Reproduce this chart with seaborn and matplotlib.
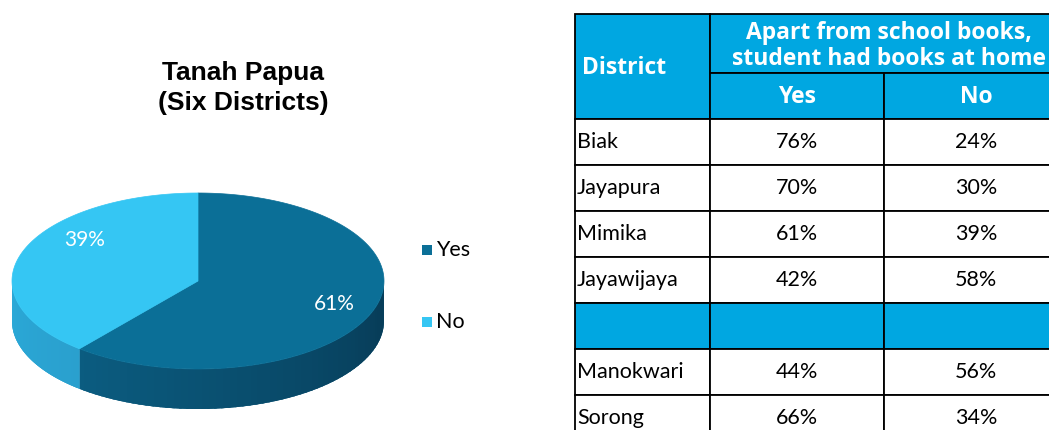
import numpy as np
import matplotlib
matplotlib.use("Agg")
import matplotlib.pyplot as plt
from matplotlib.patches import Polygon, Rectangle
import seaborn as sns

# =========================================================
# DATA
# =========================================================

pie_labels = ["Yes", "No"]
pie_values = [61, 39]

districts = ["Biak", "Jayapura", "Mimika", "Jayawijaya", "", "Manokwari", "Sorong"]
yes_pct = [76, 70, 61, 42, None, 44, 66]
no_pct = [24, 30, 39, 58, None, 56, 34]

# =========================================================
# STYLE
# =========================================================

sns.set_theme(style="white")
plt.rcParams["font.family"] = ["Lato", "DejaVu Sans"]

top_colors = ["#0B6F97", "#35C6F3"]
side_colors = [("#0B5C80", "#073A55"), ("#2AA9D8", "#2AA0CE")]
header_blue = "#00A7E1"
head_font = ["Open Sans", "DejaVu Sans"]

fig = plt.figure(figsize=(10.49, 4.30), dpi=100)
ax = fig.add_axes([0, 0, 1, 1])
ax.set_xlim(0, 1049)
ax.set_ylim(430, 0)
ax.axis("off")

# =========================================================
# 3D PIE (drawn as a tilted ellipse with a side wall)
# =========================================================

cx, cy, a, b, depth = 198, 281, 186, 88, 40

fracs = np.array(pie_values) / np.sum(pie_values)
edges = 90 - 360 * np.concatenate([[0], np.cumsum(fracs)])


def ell(t):
    r = np.radians(t)
    return cx + a * np.cos(r), cy - b * np.sin(r)


def band(t_hi, t_lo):
    seg = np.linspace(t_hi, t_lo, max(4, int(abs(t_hi - t_lo))))
    x, y = ell(seg)
    return np.column_stack([np.r_[x, x[::-1]], np.r_[y, y[::-1] + depth]])


# side walls (only the front half is visible)
for i in range(len(pie_values)):
    t0, t1 = edges[i], edges[i + 1]
    for k in (-1, 0, 1):
        lo = max(t1, -180 + 360 * k)
        hi = min(t0, 360 * k)
        if hi <= lo:
            continue
        # solid base, then a soft gradient on top of it
        ax.add_patch(Polygon(band(hi, lo), closed=True,
                             facecolor=side_colors[i][0], edgecolor="none"))
        n = 60
        ts = np.linspace(hi, lo, n + 1)
        shades = sns.blend_palette(list(side_colors[i])[::-1], n)
        for j in range(n):
            end = max(ts[j + 1] - 0.8, lo)
            ax.add_patch(Polygon(band(ts[j], end), closed=True,
                                 facecolor=shades[j], edgecolor="none"))

# top surfaces
for i in range(len(pie_values)):
    ts = np.linspace(edges[i], edges[i + 1], 200)
    x, y = ell(ts)
    pts = np.column_stack([np.r_[cx, x], np.r_[cy, y]])
    ax.add_patch(Polygon(pts, closed=True, facecolor=top_colors[i],
                         edgecolor=top_colors[i], lw=0.5))

# percentage labels
label_r = [0.78, 0.65]
label_lift = [0, 22]
for i, v in enumerate(pie_values):
    mid = (edges[i] + edges[i + 1]) / 2
    r = np.radians(mid)
    lx = cx + a * label_r[i] * np.cos(r)
    ly = cy - b * label_r[i] * np.sin(r) - label_lift[i]
    ax.text(lx, ly, f"{v}%", color="white", fontsize=15,
            ha="center", va="center")

# title
ax.text(243, 88, "Tanah Papua\n(Six Districts)", fontsize=19,
        fontweight="bold", family="Liberation Sans", ha="center",
        va="center", linespacing=1.3, color="black")

# legend
for i, lab in enumerate(pie_labels):
    ly = 250 + 72 * i
    ax.add_patch(Rectangle((422, ly - 5), 10, 10, facecolor=top_colors[i],
                           edgecolor="none"))
    ax.text(436, ly, lab, fontsize=15.5, ha="left", va="center", color="black")

# =========================================================
# TABLE
# =========================================================

col_edges = [575, 710, 884, 1068]
head_top, head_mid, body_top, row_h = 14, 73, 119, 46
lw = 1.3

def cell(x0, x1, y0, y1, fill):
    ax.add_patch(Rectangle((x0, y0), x1 - x0, y1 - y0, facecolor=fill,
                           edgecolor="black", lw=lw, clip_on=False))

cell(col_edges[0], col_edges[1], head_top, body_top, header_blue)
cell(col_edges[1], col_edges[3], head_top, head_mid, header_blue)
cell(col_edges[1], col_edges[2], head_mid, body_top, header_blue)
cell(col_edges[2], col_edges[3], head_mid, body_top, header_blue)

ax.text(582, 68, "District", color="white", fontsize=16.5, fontweight="bold",
        family=head_font, ha="left", va="center")
ax.text((col_edges[1] + col_edges[3]) / 2, 46,
        "Apart from school books,\nstudent had books at home",
        color="white", fontsize=16.5, fontweight="bold", family=head_font,
        ha="center", va="center", linespacing=1.15)
ax.text((col_edges[1] + col_edges[2]) / 2, 97, "Yes", color="white",
        fontsize=16.5, fontweight="bold", family=head_font,
        ha="center", va="center")
ax.text((col_edges[2] + col_edges[3]) / 2, 97, "No", color="white",
        fontsize=16.5, fontweight="bold", family=head_font,
        ha="center", va="center")

for i, d in enumerate(districts):
    y0 = body_top + i * row_h
    y1 = y0 + row_h
    fill = header_blue if d == "" else "white"
    for c in range(3):
        cell(col_edges[c], col_edges[c + 1], y0, y1, fill)
    if d == "":
        continue
    ym = y0 + row_h / 2
    ax.text(577, ym, d, fontsize=15.5, ha="left", va="center", color="black")
    ax.text((col_edges[1] + col_edges[2]) / 2, ym, f"{yes_pct[i]}%",
            fontsize=15.5, ha="center", va="center", color="black")
    ax.text((col_edges[2] + col_edges[3]) / 2, ym, f"{no_pct[i]}%",
            fontsize=15.5, ha="center", va="center", color="black")

fig.savefig("out.png", dpi=100)
